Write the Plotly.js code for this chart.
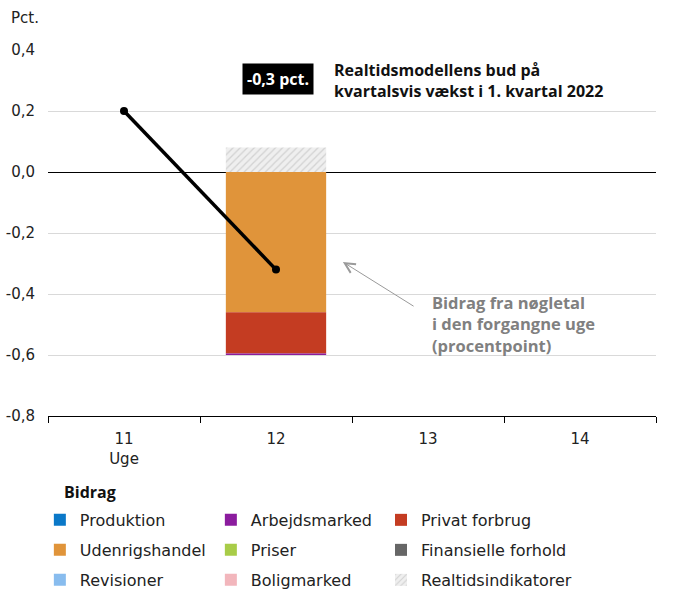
<!DOCTYPE html>
<html>
<head>
<meta charset="utf-8">
<script src="https://cdn.plot.ly/plotly-3.0.1.min.js"></script>
<style>
  html, body { margin: 0; padding: 0; background: #fff; }
  #chart { width: 680px; height: 611px; }
</style>
</head>
<body>
<div id="chart"></div>
<script>
// ---- data ----
const weeks = ["11", "12", "13", "14"];
const weekLabels = ["11<br>Uge", "12", "13", "14"];
const yTickValues = [-0.8, -0.6, -0.4, -0.2, 0.0, 0.2, 0.4];
const yTickLabels = ["-0,8", "-0,6", "-0,4", "-0,2", "0,0", "0,2", "0,4"];

const nowcast = [0.2, -0.32, null, null];

const produktion = [null, 0, null, null];
const arbejdsmarked = [null, -0.005, null, null];
const privatForbrug = [null, -0.135, null, null];
const udenrigshandel = [null, -0.46, null, null];
const priser = [null, 0, null, null];
const finansielleForhold = [null, 0, null, null];
const revisioner = [null, 0, null, null];
const boligmarked = [null, 0, null, null];
const realtidsindikatorer = [null, 0.08, null, null];

const headlineLabel = "-0,3 pct.";
const headlineText = "Realtidsmodellens bud på<br>kvartalsvis vækst i 1. kvartal 2022";
const noteText = "Bidrag fra nøgletal<br>i den forgangne uge<br>(procentpoint)";

// ---- traces (defined in stacking order; legend order via legendrank) ----
function bar(name, values, color, legendId, rank, pattern) {
  const t = {
    type: "bar", name: name, x: weeks, y: values,
    marker: { color: color, line: { width: 0 } },
    legend: legendId, legendrank: rank, hoverinfo: "skip"
  };
  if (pattern) t.marker.pattern = pattern;
  return t;
}

const traces = [
  bar("Udenrigshandel", udenrigshandel, "#e0943a", "legend2", 4),
  bar("Privat forbrug", privatForbrug, "#c43c22", "legend4", 3),
  bar("Arbejdsmarked", arbejdsmarked, "#8b1c9e", "legend", 2),
  bar("Produktion", produktion, "#0a78c8", "legend", 1),
  bar("Priser", priser, "#a8cc48", "legend2", 5),
  bar("Finansielle forhold", finansielleForhold, "#666666", "legend5", 6),
  bar("Revisioner", revisioner, "#88bcee", "legend3", 7),
  bar("Boligmarked", boligmarked, "#f2b6bc", "legend3", 8),
  bar("Realtidsindikatorer", realtidsindikatorer, "#ececec", "legend6", 9,
      { shape: "/", fgcolor: "#d2d2d2", bgcolor: "#efefef", size: 5, solidity: 0.25 }),
  {
    type: "scatter", mode: "lines+markers", x: weeks, y: nowcast,
    line: { color: "#000000", width: 3.5 },
    marker: { color: "#000000", size: 8 },
    showlegend: false, hoverinfo: "skip", cliponaxis: false
  }
];

const legendBase = {
  orientation: "h", xanchor: "left", yanchor: "middle",
  x: -0.0134, entrywidth: 126, entrywidthmode: "pixels",
  font: { family: "DejaVu Sans", size: 16, color: "#222222" },
  bgcolor: "rgba(0,0,0,0)", borderwidth: 0, traceorder: "normal"
};
const legendCol3 = {
  orientation: "h", xanchor: "left", yanchor: "middle",
  x: 0.5477,
  font: { family: "DejaVu Sans", size: 16, color: "#222222" },
  bgcolor: "rgba(0,0,0,0)", borderwidth: 0, traceorder: "normal"
};

const layout = {
  width: 680, height: 611,
  margin: { l: 48, r: 24, t: 50, b: 195 },
  paper_bgcolor: "#ffffff", plot_bgcolor: "#ffffff",
  font: { family: "DejaVu Sans", size: 15, color: "#222222" },
  barmode: "relative",
  bargap: 0.34,
  showlegend: true,
  legend: Object.assign({}, legendBase, { y: -0.284 }),
  legend2: Object.assign({}, legendBase, { y: -0.366 }),
  legend3: Object.assign({}, legendBase, { y: -0.448 }),
  legend4: Object.assign({}, legendCol3, { y: -0.284 }),
  legend5: Object.assign({}, legendCol3, { y: -0.366 }),
  legend6: Object.assign({}, legendCol3, { y: -0.448 }),
  xaxis: {
    type: "category",
    categoryorder: "array", categoryarray: weeks,
    tickvals: weeks, ticktext: weekLabels,
    range: [-0.5, 3.5],
    showgrid: false, zeroline: false,
    showline: true, linecolor: "#000000", linewidth: 1,
    ticks: "outside", tickson: "boundaries", ticklen: 6, tickcolor: "#000000",
    ticklabelstandoff: 9,
    tickfont: { family: "DejaVu Sans", size: 15, color: "#222222" },
    fixedrange: true
  },
  yaxis: {
    range: [-0.8, 0.4],
    tickvals: yTickValues, ticktext: yTickLabels,
    showgrid: true, gridcolor: "#d9d9d9", gridwidth: 1,
    zeroline: true, zerolinecolor: "#000000", zerolinewidth: 1,
    showline: false, ticks: "",
    ticklabelstandoff: 12,
    tickfont: { family: "DejaVu Sans", size: 15, color: "#222222" },
    fixedrange: true
  },
  annotations: [
    {
      text: "Pct.", xref: "paper", yref: "paper",
      x: -0.064, y: 1.087, xanchor: "left", yanchor: "middle",
      showarrow: false, font: { family: "DejaVu Sans", size: 15, color: "#222222" }
    },
    {
      text: headlineLabel, xref: "paper", yref: "paper",
      x: 0.378, y: 0.921, xanchor: "center", yanchor: "middle",
      showarrow: false, bgcolor: "#000000", borderpad: 4,
      font: { family: "Open Sans", size: 16, color: "#ffffff", weight: "bold" }
    },
    {
      text: headlineText, xref: "paper", yref: "paper",
      x: 0.467, y: 0.917, xanchor: "left", yanchor: "middle", align: "left",
      showarrow: false,
      font: { family: "Open Sans", size: 16, color: "#111111", weight: "bold" }
    },
    {
      text: noteText, xref: "paper", yref: "paper",
      x: 0.629, y: 0.251, xanchor: "left", yanchor: "middle", align: "left",
      showarrow: false,
      font: { family: "Open Sans", size: 16.5, color: "#808080", weight: "bold" }
    },
    {
      text: "", xref: "x", yref: "y", x: 1.44, y: -0.295,
      axref: "x", ayref: "y", ax: 1.915, ay: -0.443,
      showarrow: true, arrowhead: 5, arrowsize: 2, arrowwidth: 1,
      arrowcolor: "#9a9a9a", standoff: 0, startstandoff: 0
    },
    {
      text: "Bidrag", xref: "paper", yref: "paper",
      x: 0.023, y: -0.208, xanchor: "left", yanchor: "middle",
      showarrow: false,
      font: { family: "Open Sans", size: 16, color: "#111111", weight: "bold" }
    }
  ]
};

Plotly.newPlot("chart", traces, layout, { staticPlot: true, displayModeBar: false });
</script>
</body>
</html>
